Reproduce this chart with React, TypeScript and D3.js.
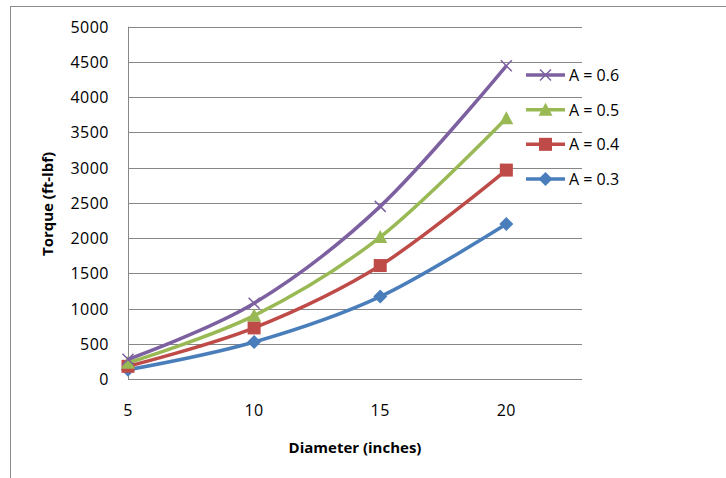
import React from 'react';
import * as d3 from 'd3';

// Diameter (inches) on the x axis
const diameters = [5, 10, 15, 20];
// Torque (ft-lbf), one array per A value
const torqueA03 = [130, 525, 1170, 2200];
const torqueA04 = [180, 725, 1610, 2965];
const torqueA05 = [230, 900, 2015, 3700];
const torqueA06 = [280, 1075, 2450, 4445];
const seriesNames = ['A = 0.6', 'A = 0.5', 'A = 0.4', 'A = 0.3'];
const yTicks = [0, 500, 1000, 1500, 2000, 2500, 3000, 3500, 4000, 4500, 5000];
const xTicks = [5, 10, 15, 20];

const series = [
  { name: seriesNames[0], values: torqueA06, color: '#7D60A0', marker: 'x' },
  { name: seriesNames[1], values: torqueA05, color: '#98B954', marker: 'triangle' },
  { name: seriesNames[2], values: torqueA04, color: '#BE4B48', marker: 'square' },
  { name: seriesNames[3], values: torqueA03, color: '#4A7EBB', marker: 'diamond' },
];

const font = '"Open Sans", "DejaVu Sans", sans-serif';

const Marker = ({ type, color, x, y }: { type: string; color: string; x: number; y: number }) => {
  if (type === 'square') {
    return <rect x={x - 6.5} y={y - 6.5} width={13} height={13} fill={color} />;
  }
  if (type === 'diamond') {
    return <path d={`M${x},${y - 7}L${x + 7},${y}L${x},${y + 7}L${x - 7},${y}Z`} fill={color} />;
  }
  if (type === 'triangle') {
    return <path d={`M${x},${y - 7}L${x + 7},${y + 6}L${x - 7},${y + 6}Z`} fill={color} />;
  }
  return (
    <path
      d={`M${x - 5.5},${y - 5.5}L${x + 5.5},${y + 5.5}M${x + 5.5},${y - 5.5}L${x - 5.5},${y + 5.5}`}
      stroke={color}
      strokeWidth={1.5}
      fill="none"
    />
  );
};

const App = () => {
  const width = 726;
  const height = 478;

  const x = d3.scaleLinear().domain([5, 23]).range([128, 582]);
  const y = d3.scaleLinear().domain([0, 5000]).range([379, 26.7]);

  const line = d3
    .line<number>()
    .x((_, i) => x(diameters[i]))
    .y((d) => y(d))
    .curve(d3.curveCatmullRom.alpha(0));

  const legendY = d3.scalePoint<string>().domain(seriesNames).range([75, 179]);

  return (
    <svg width={width} height={height} style={{ position: 'absolute', left: 0, top: 0 }}>
      <rect x={0} y={0} width={width} height={height} fill="#ffffff" />
      {/* outer chart border */}
      <rect x={10.5} y={6.5} width={width + 20} height={height + 20} fill="none" stroke="#8c8c8c" />

      {/* gridlines */}
      {yTicks.map((t) => (
        <line key={t} x1={x(5)} x2={x(23)} y1={Math.round(y(t)) + 0.5} y2={Math.round(y(t)) + 0.5} stroke="#878787" />
      ))}
      {/* y axis */}
      <line x1={x(5) + 0.5} x2={x(5) + 0.5} y1={y(5000)} y2={y(0)} stroke="#878787" />

      {/* y tick labels */}
      {yTicks.map((t) => (
        <text
          key={t}
          x={109}
          y={y(t)}
          textAnchor="end"
          dominantBaseline="central"
          fontFamily={font}
          fontSize={16}
          letterSpacing={0.5}
          fill="#000"
        >
          {t}
        </text>
      ))}

      {/* x tick labels */}
      {xTicks.map((t) => (
        <text
          key={t}
          x={x(t)}
          y={410}
          textAnchor="middle"
          dominantBaseline="central"
          fontFamily={font}
          fontSize={16}
          letterSpacing={0.5}
          fill="#000"
        >
          {t}
        </text>
      ))}

      {/* axis titles */}
      <text
        x={355}
        y={447}
        textAnchor="middle"
        dominantBaseline="central"
        fontFamily={font}
        fontSize={15}
        fontWeight="bold"
        fill="#000"
      >
        Diameter (inches)
      </text>
      <text
        transform="translate(47,204) rotate(-90)"
        textAnchor="middle"
        dominantBaseline="central"
        fontFamily={font}
        fontSize={15}
        fontWeight="bold"
        fill="#000"
      >
        Torque (ft-lbf)
      </text>

      {/* series, drawn bottom-most first */}
      {[...series].reverse().map((s) => (
        <g key={s.name}>
          <path d={line(s.values) || ''} fill="none" stroke={s.color} strokeWidth={3.5} strokeLinejoin="round" />
          {s.values.map((v, i) => (
            <Marker key={i} type={s.marker} color={s.color} x={x(diameters[i])} y={y(v)} />
          ))}
        </g>
      ))}

      {/* legend */}
      {series.map((s) => {
        const ly = legendY(s.name) as number;
        return (
          <g key={s.name}>
            <line x1={526} x2={565} y1={ly} y2={ly} stroke={s.color} strokeWidth={3.5} />
            <Marker type={s.marker} color={s.color} x={545.5} y={ly} />
            <text x={569} y={ly} dominantBaseline="central" fontFamily={font} fontSize={16} fill="#000">
              {s.name}
            </text>
          </g>
        );
      })}
    </svg>
  );
};

export default App;
